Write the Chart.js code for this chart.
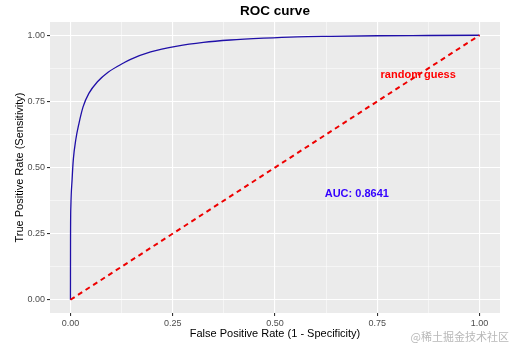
<!DOCTYPE html>
<html>
<head>
<meta charset="utf-8">
<script src="https://cdn.jsdelivr.net/npm/chart.js@4/dist/chart.umd.min.js"></script>
<style>
html,body{margin:0;padding:0;background:#fff;}
#wrap{width:519px;height:353px;position:relative;}
</style>
</head>
<body>
<div id="wrap"><canvas id="c" width="519" height="353"></canvas></div>
<script>
// ---- data ----
const fpr = [0, 0.0002, 0.001, 0.004, 0.007, 0.013, 0.021, 0.031, 0.045, 0.066, 0.092, 0.131, 0.147, 0.196, 0.261, 0.325, 0.391, 0.472, 0.554, 0.636, 0.750, 0.875, 1.0];
const tpr = [0, 0.228, 0.354, 0.454, 0.530, 0.605, 0.668, 0.730, 0.780, 0.824, 0.860, 0.896, 0.909, 0.937, 0.959, 0.973, 0.982, 0.989, 0.994, 0.996, 0.998, 0.999, 1.0];
const guessX = [0, 1];
const guessY = [0, 1];
const tickValues = [0, 0.25, 0.5, 0.75, 1];
const minorValues = [0.125, 0.375, 0.625, 0.875];
const titleText = "ROC curve";
const xTitle = "False Positive Rate (1 - Specificity)";
const yTitle = "True Positive Rate (Sensitivity)";
const aucLabel = { x: 0.70, y: 0.40, text: "AUC: 0.8641" };
const guessLabel = { x: 0.85, y: 0.85, text: "random guess" };
const watermark = "@稀土掘金技术社区";

const rocPts = fpr.map((x, i) => ({ x: x, y: tpr[i] }));
const guessPts = guessX.map((x, i) => ({ x: x, y: guessY[i] }));
const allTicks = tickValues.concat(minorValues).sort((a, b) => a - b);
const isMajor = v => tickValues.some(t => Math.abs(t - v) < 1e-9);

const FONT = "'Liberation Sans', Arial, sans-serif";

const decor = {
  id: 'decor',
  beforeDraw(chart) {
    const { ctx, chartArea: a } = chart;
    ctx.save();
    ctx.fillStyle = '#ebebeb';
    ctx.fillRect(a.left, a.top, a.right - a.left, a.bottom - a.top);
    ctx.restore();
  },
  afterDraw(chart) {
    const { ctx, chartArea: a, scales } = chart;
    const xs = scales.x, ys = scales.y;
    ctx.save();
    ctx.fillStyle = '#000';
    ctx.textAlign = 'center';
    ctx.textBaseline = 'middle';
    ctx.font = "bold 13.5px " + FONT;
    ctx.fillText(titleText, (a.left + a.right) / 2, 11);
    ctx.font = "11px " + FONT;
    ctx.fillText(xTitle, (a.left + a.right) / 2, 334);
    ctx.save();
    ctx.translate(20, (a.top + a.bottom) / 2);
    ctx.rotate(-Math.PI / 2);
    ctx.fillText(yTitle, 0, 0);
    ctx.restore();
    ctx.font = "bold 11px " + FONT;
    ctx.fillStyle = '#ff0000';
    ctx.fillText(guessLabel.text, xs.getPixelForValue(guessLabel.x), ys.getPixelForValue(guessLabel.y));
    ctx.fillStyle = '#3300ff';
    ctx.fillText(aucLabel.text, xs.getPixelForValue(aucLabel.x), ys.getPixelForValue(aucLabel.y));
    ctx.font = "11px 'Noto Sans CJK SC', sans-serif";
    ctx.fillStyle = 'rgba(160,160,160,0.75)';
    ctx.textAlign = 'right';
    ctx.fillText(watermark, 509, 337);
    ctx.restore();
  }
};

const axisCommon = () => ({
  type: 'linear',
  min: -0.05,
  max: 1.05,
  afterBuildTicks(s) { s.ticks = allTicks.map(v => ({ value: v })); },
  ticks: {
    autoSkip: false,
    maxRotation: 0,
    padding: 2,
    color: '#4d4d4d',
    font: { family: FONT, size: 9 },
    callback: v => isMajor(v) ? v.toFixed(2) : ''
  },
  grid: {
    color: '#ffffff',
    lineWidth: c => (c.tick && isMajor(c.tick.value)) ? 1.1 : 0.5,
    tickColor: c => (c.tick && isMajor(c.tick.value)) ? '#333333' : 'rgba(0,0,0,0)',
    tickLength: 3,
    drawTicks: true
  },
  border: { display: false }
});

const xOpts = axisCommon();
xOpts.afterFit = s => { s.height = 40; };
const yOpts = axisCommon();
yOpts.afterFit = s => { s.width = 50; };

new Chart(document.getElementById('c'), {
  type: 'scatter',
  data: {
    datasets: [
      {
        label: 'random guess',
        data: guessPts,
        showLine: true,
        borderColor: '#ee0000',
        borderWidth: 2,
        borderDash: [5, 4],
        pointRadius: 0,
        fill: false
      },
      {
        label: 'ROC',
        data: rocPts,
        showLine: true,
        borderColor: '#1f0fa8',
        borderWidth: 1.3,
        cubicInterpolationMode: 'monotone',
        pointRadius: 0,
        fill: false
      }
    ]
  },
  options: {
    responsive: false,
    animation: false,
    devicePixelRatio: 1,
    layout: { padding: { top: 22, right: 19, left: 0, bottom: 0 } },
    plugins: { legend: { display: false }, tooltip: { enabled: false }, title: { display: false } },
    scales: { x: xOpts, y: yOpts }
  },
  plugins: [decor]
});
</script>
</body>
</html>
